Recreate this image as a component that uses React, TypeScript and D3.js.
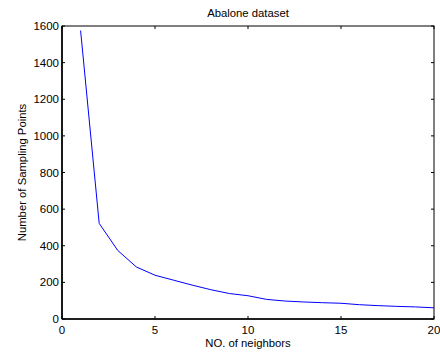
import React from "react";
import * as d3 from "d3";

const neighbors = [1, 2, 3, 4, 5, 6, 7, 8, 9, 10, 11, 12, 13, 14, 15, 16, 17, 18, 19, 20];
const samplingPoints = [1575, 522, 374, 284, 239, 212, 185, 160, 139, 127, 107, 98, 93, 89, 86, 78, 73, 69, 66, 61];
const xTicks = [0, 5, 10, 15, 20];
const yTicks = [0, 200, 400, 600, 800, 1000, 1200, 1400, 1600];
const title = "Abalone dataset";
const xLabel = "NO. of neighbors";
const yLabel = "Number of Sampling Points";

export default function App() {
  const W = 440, H = 352;
  const left = 62, right = 434, top = 26, bottom = 319;
  const x = d3.scaleLinear().domain([0, 20]).range([left, right]);
  const y = d3.scaleLinear().domain([0, 1600]).range([bottom, top]);
  const line = d3.line<number>().x((_, i) => x(neighbors[i])).y((d) => y(d));
  const font = "Liberation Sans, Arial, sans-serif";
  const tl = 3;
  return (
    <svg width={W} height={H} style={{ position: "absolute", left: 0, top: 0, background: "#fff" }} fontFamily={font}>
      <rect x={0} y={0} width={W} height={H} fill="#fff" />
      <text x={(left + right) / 2} y={17} textAnchor="middle" fontSize={11.3} fill="#000">{title}</text>
      <rect x={left} y={top} width={right - left} height={bottom - top} fill="none" stroke="#000" strokeWidth={1} />
      <line x1={left} x2={left} y1={top} y2={bottom} stroke="#000" strokeWidth={1.6} />
      <line x1={left} x2={right} y1={bottom} y2={bottom} stroke="#000" strokeWidth={1.6} />
      {xTicks.map((t) => (
        <g key={"x" + t}>
          <line x1={x(t)} x2={x(t)} y1={bottom} y2={bottom - tl} stroke="#000" />
          <line x1={x(t)} x2={x(t)} y1={top} y2={top + tl} stroke="#000" />
          <text x={x(t)} y={bottom + 15} textAnchor="middle" fontSize={11.5} fill="#000">{t}</text>
        </g>
      ))}
      {yTicks.map((t) => (
        <g key={"y" + t}>
          <line x1={left} x2={left + tl} y1={y(t)} y2={y(t)} stroke="#000" />
          <line x1={right} x2={right - tl} y1={y(t)} y2={y(t)} stroke="#000" />
          <text x={left - 3} y={y(t) + 4.1} textAnchor="end" fontSize={11.5} fill="#000">{t}</text>
        </g>
      ))}
      <path d={line(samplingPoints) || ""} fill="none" stroke="#0000ff" strokeWidth={1} />
      <text x={(left + right) / 2} y={347} textAnchor="middle" fontSize={11.3} fill="#000">{xLabel}</text>
      <text transform={`translate(26,${(top + bottom) / 2}) rotate(-90)`} textAnchor="middle" fontSize={11.3} fill="#000">{yLabel}</text>
    </svg>
  );
}
